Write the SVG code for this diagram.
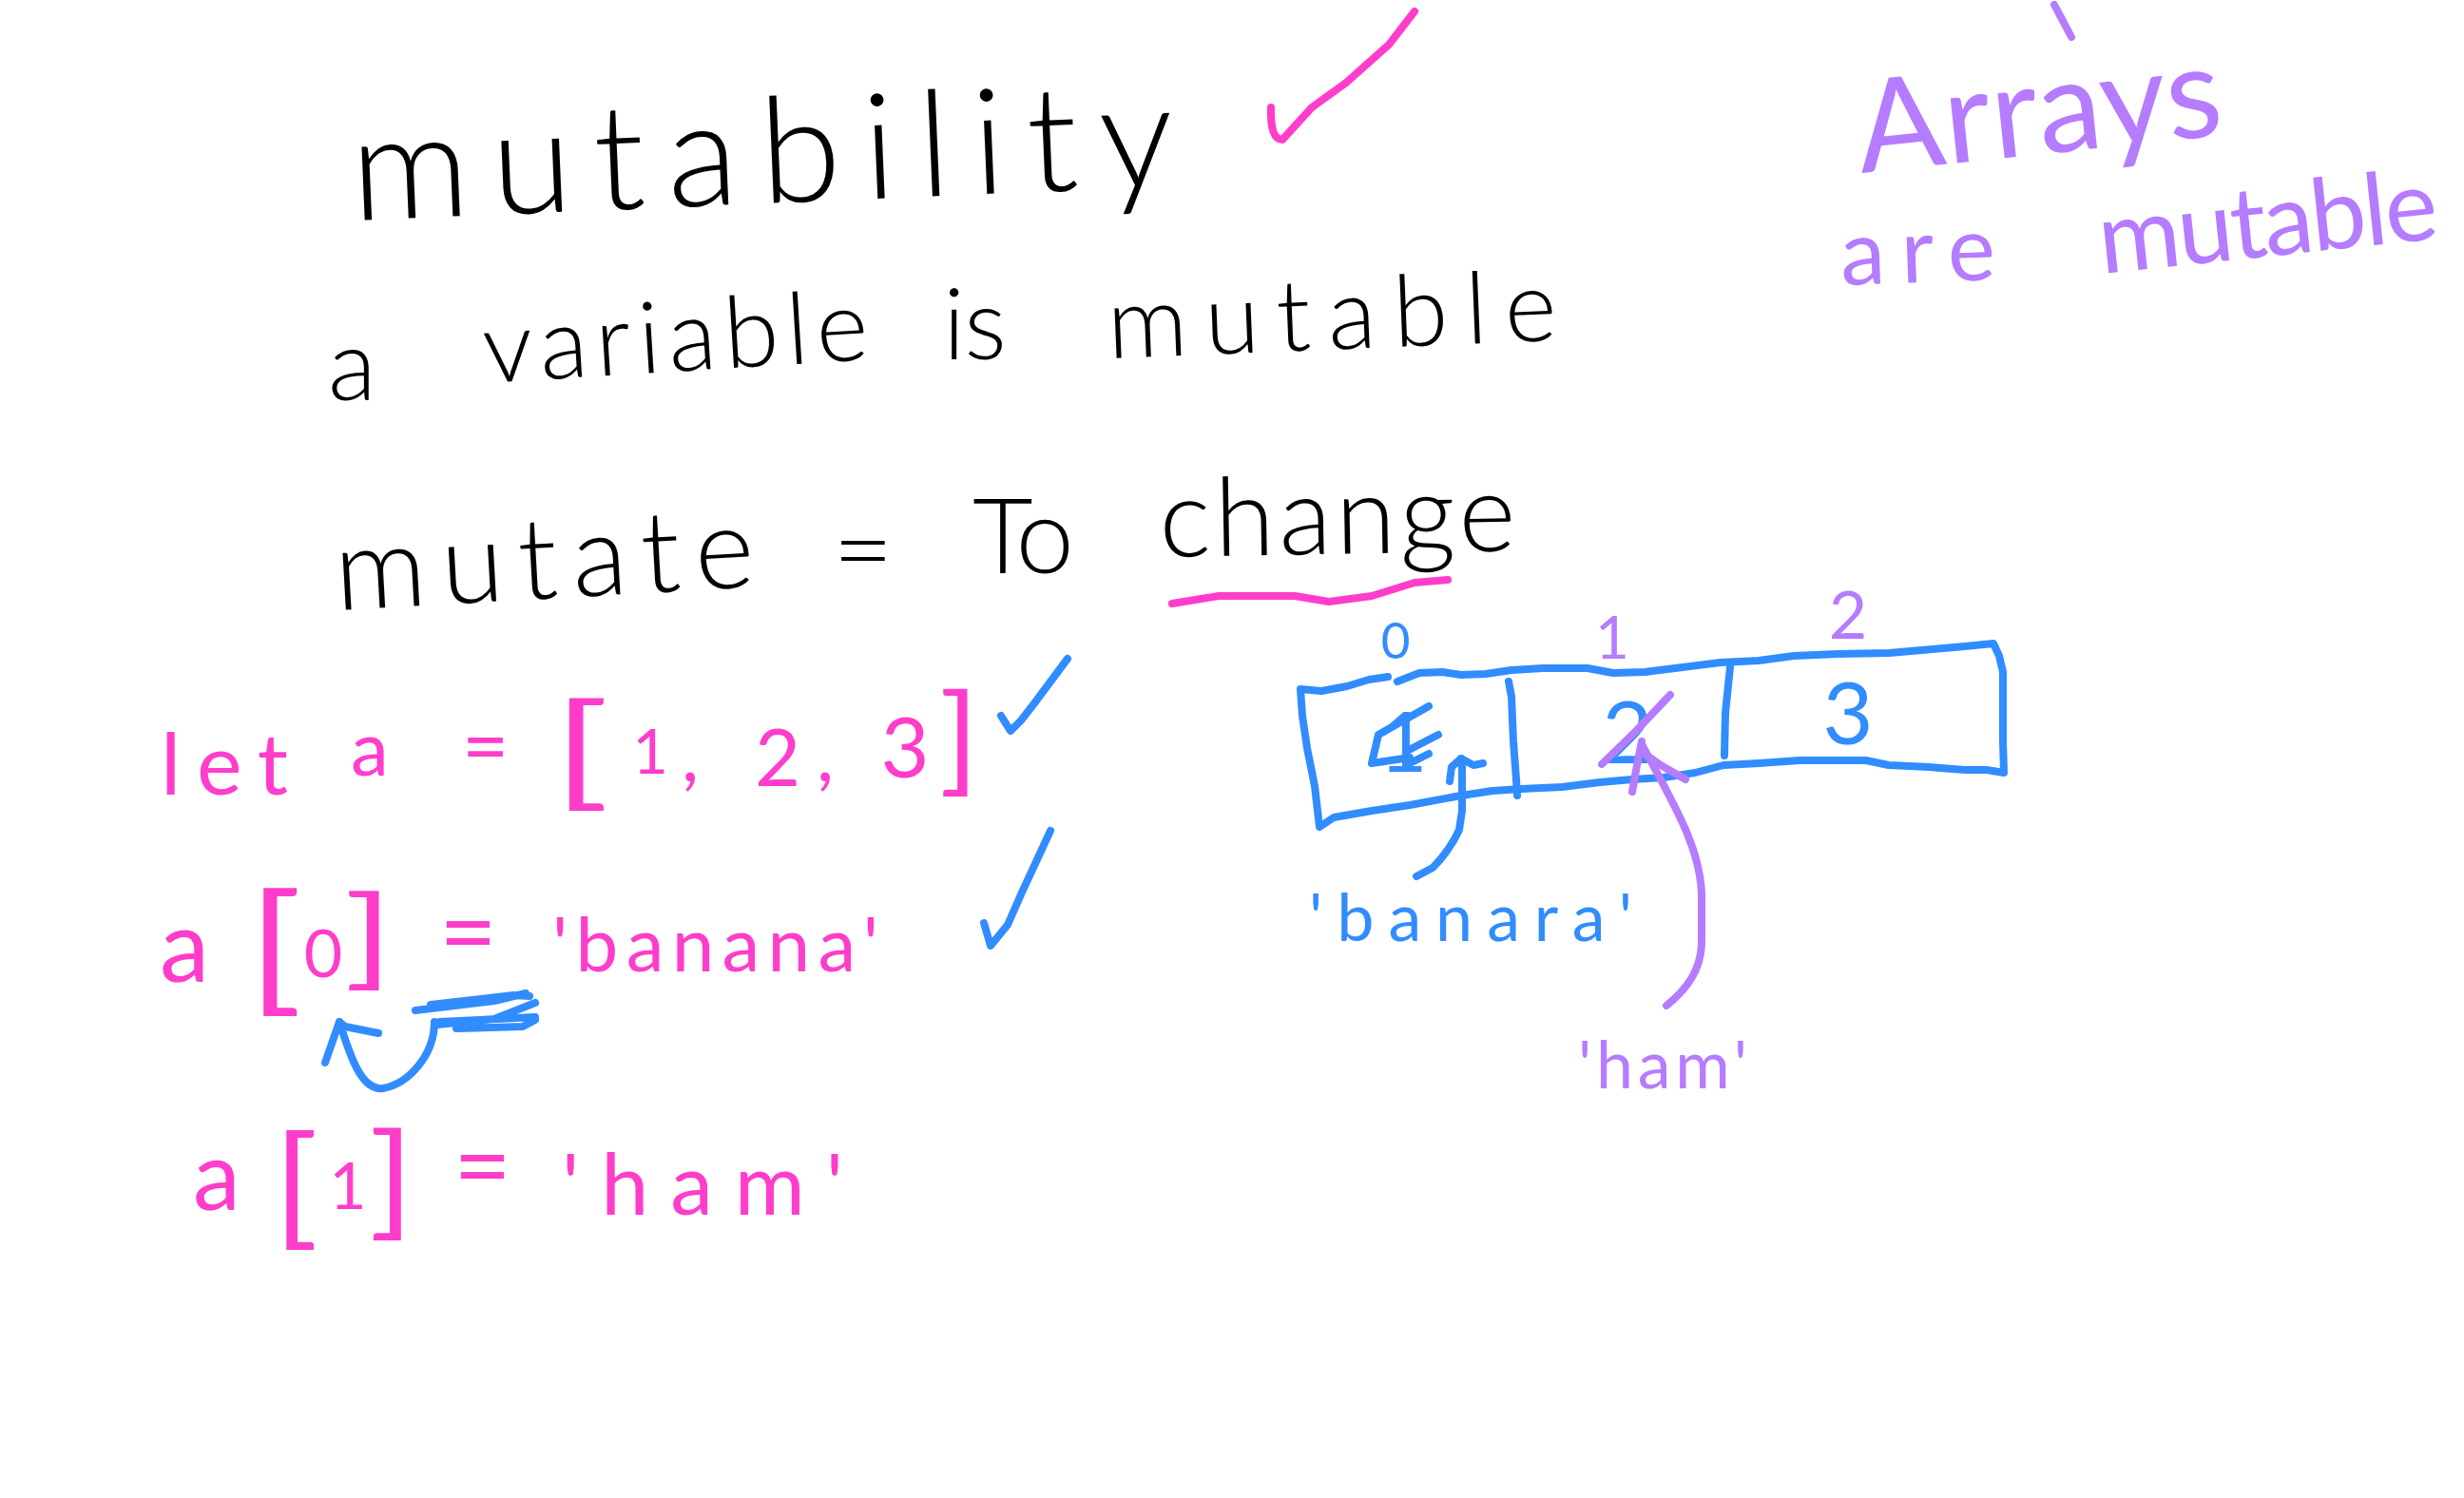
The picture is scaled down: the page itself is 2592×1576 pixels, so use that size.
<svg xmlns="http://www.w3.org/2000/svg" width="2592" height="1576" viewBox="0 0 2592 1576">
<style>
text{font-family:Lato,"Open Sans","Liberation Sans",sans-serif;font-weight:300}
.k{fill:#000}
.p{fill:#ff3dcb;font-weight:400}
.b{fill:#318cff;font-weight:400}
.v{fill:#b57cff;font-weight:400}
.m{text-anchor:middle}
.s{fill:none;stroke-linecap:round;stroke-linejoin:round;stroke-width:8}
.sp{stroke:#ff3dcb}
.sb{stroke:#318cff}
.sv{stroke:#b57cff}
</style>
<rect width="2592" height="1576" fill="#fff"/>

<g id="title">
<text class="k" x="371" y="232" font-size="155" textLength="866" transform="rotate(-2.4 371 232)">mutability</text>
</g>
<g id="definition">
<text class="k" x="345" y="421" font-size="105" textLength="49">a</text>
<text class="k" x="510" y="403" font-size="105" textLength="406" transform="rotate(-3.5 510 403)">variable</text>
<text class="k" x="992" y="378" font-size="105" textLength="67">is</text>
<text class="k" x="1166" y="377" font-size="105" textLength="473" transform="rotate(-2.3 1166 377)">mutable</text>
</g>
<g id="mutate-line">
<text class="k" x="354" y="642" font-size="120" textLength="442" transform="rotate(-3.2 354 642)">mutate</text>
<text class="k" x="876" y="617" font-size="110" textLength="62">=</text>
<text class="k" x="1023" y="603" font-size="110" textLength="107">To</text>
<text class="k" x="1220" y="586" font-size="115" textLength="375" transform="rotate(-1 1220 586)">change</text>
</g>

<g id="let-line">
<text class="p" x="169" y="836" font-size="90" textLength="134">let</text>
<text class="p" x="369" y="816" font-size="80" textLength="53">a</text>
<text class="p" x="486" y="815" font-size="85" textLength="45">=</text>
<text class="p" x="581" y="834" font-size="130" textLength="60" lengthAdjust="spacingAndGlyphs">[</text>
<text class="p m" x="684" y="814" font-size="65">1</text>
<text class="p m" x="726" y="822" font-size="80">,</text>
<text class="p m" x="818" y="827" font-size="83">2</text>
<text class="p m" x="868" y="822" font-size="80">,</text>
<text class="p m" x="952" y="818" font-size="88">3</text>
<text class="p" x="988" y="820" font-size="125" textLength="42" lengthAdjust="spacingAndGlyphs">]</text>
</g>
<g id="assign0">
<text class="p" x="168" y="1033" font-size="105" textLength="59">a</text>
<text class="p" x="260" y="1048" font-size="148" textLength="58" lengthAdjust="spacingAndGlyphs">[</text>
<text class="p m" x="340" y="1028" font-size="70">0</text>
<text class="p" x="362" y="1025" font-size="115" textLength="52" lengthAdjust="spacingAndGlyphs">]</text>
<text class="p" x="462" y="1017" font-size="105" textLength="61">=</text>
<text class="p" x="581" y="1022" font-size="80" textLength="343">'banana'</text>
</g>
<g id="assign1">
<text class="p" x="203" y="1273" font-size="100" textLength="57">a</text>
<text class="p" x="287" y="1295" font-size="138" textLength="48" lengthAdjust="spacingAndGlyphs">[</text>
<text class="p m" x="366" y="1272" font-size="68">1</text>
<text class="p" x="388" y="1286" font-size="130" textLength="48" lengthAdjust="spacingAndGlyphs">]</text>
<text class="p" x="477" y="1263" font-size="105" textLength="61">=</text>
<text class="p" x="591" y="1278" font-size="90" textLength="296">'ham'</text>
</g>

<g id="array">
<path class="s sb" d="M1368,725 L1390,727 L1417,722 L1440,715 L1460,712 M1470,717 L1493,708 L1517,707 L1537,710 L1563,709 L1590,705 L1623,703 L1670,703 L1697,708 L1730,707 L1770,702 L1810,697 L1850,695 L1887,690 L1933,688 L1987,687 L2033,683 L2067,680 L2097,677 L2103,690 L2107,707 L2107,780 L2108,813 L2090,810 L2067,810 L2030,807 L1987,805 L1963,800 L1893,800 L1850,803 L1813,805 L1783,813 L1750,818 L1717,820 L1683,823 L1643,828 L1600,830 L1570,832 L1537,837 L1483,847 L1443,853 L1403,860 L1388,870 L1383,827 L1375,787 L1370,753 L1368,725"/>
<path class="s sb" d="M1587,717 L1590,733 L1592,780 L1595,820 L1596,837"/>
<path class="s sb" d="M1820,702 L1815,750 L1814,795"/>
<text class="b m" x="1468" y="693" font-size="53">0</text>
<text class="v m" x="1696" y="693" font-size="62">1</text>
<text class="v m" x="1944" y="672" font-size="70">2</text>
<text class="b m" x="1476" y="812" font-size="88">1</text>
<path class="s sb" d="M1503,743 L1450,773 L1443,803 L1483,797 M1513,773 L1480,790 M1503,793 L1483,803"/>
<text class="b m" x="1712" y="803" font-size="92">2</text>
<text class="b m" x="1944" y="783" font-size="92">3</text>
<path class="s sv" stroke-width="15" d="M1757,731 L1720,770 L1685,804"/>
</g>
<g id="labels">
<text class="b" x="1377" y="990" font-size="70" textLength="340">'banara'</text>
<text class="v" x="1660" y="1145" font-size="70" textLength="178">'ham'</text>
</g>
<g id="note">
<path class="s sv" d="M2161,5 L2179,39"/>
<text class="v" x="1958" y="182" font-size="135" textLength="385" transform="rotate(-6 1958 182)">Arrays</text>
<text class="v" x="1937" y="300" font-size="95" textLength="163" transform="rotate(-2 1937 300)">are</text>
<text class="v" x="2211" y="288" font-size="105" textLength="358" transform="rotate(-6 2211 288)">mutable</text>
</g>

<g id="marks">
<path class="s sp" d="M1337,113 Q1336,147 1349,147 L1380,113 L1416,87 L1461,47 L1488,12"/>
<path class="s sp" stroke-width="9" d="M1233,635 L1282,627 L1362,627 L1398,633 L1443,627 L1488,613 L1523,610"/>
<path class="s sb" d="M1053,753 L1063,769 L1074,758 L1088,740 L1123,693"/>
<path class="s sb" d="M1035,971 L1042,995 L1060,973 L1074,941 L1105,874"/>
<path class="s sb" stroke-width="10" d="M437,1063 L520,1053 L553,1045 M453,1057 L540,1047 L557,1048 M460,1078 L520,1072 L563,1055 M463,1075 L563,1070 M480,1082 L550,1080 L563,1073"/>
</g>

<g id="connectors">
<path class="s sb" d="M457,1075 C457,1110 430,1140 403,1145 C380,1148 368,1110 357,1075"/>
<path class="s sb" stroke-width="10" d="M342,1118 L350,1095 L357,1075 L363,1080 L398,1087"/>
<path class="s sb" d="M1490,922 L1507,913 Q1525,895 1535,873 L1538,853 L1538,807 L1537,798"/>
<path class="s sb" d="M1525,822 L1527,807 L1537,798 L1550,805 L1560,803"/>
<path class="s sv" d="M1753,1058 C1775,1040 1790,1020 1790,990 L1790,940 C1788,890 1760,845 1727,783"/>
<path class="s sv" d="M1730,793 L1747,805 L1773,820"/>
<path class="s sv" stroke-width="14" d="M1717,833 L1722,805 L1727,780"/>
</g>
</svg>
